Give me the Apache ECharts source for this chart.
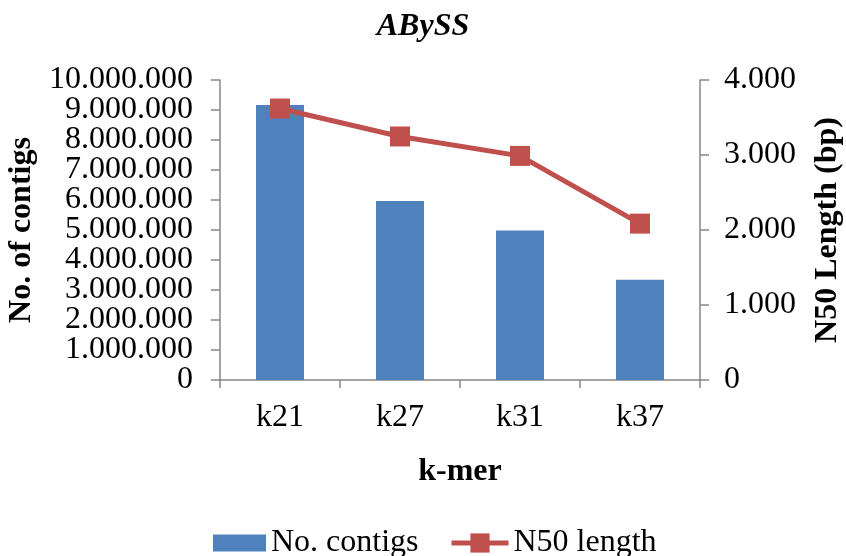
<!DOCTYPE html>
<html>
<head>
<meta charset="utf-8">
<script src="https://cdn.jsdelivr.net/npm/echarts@6/dist/echarts.min.js"></script>
<style>html,body{margin:0;padding:0;background:#fff}#c{width:846px;height:556px}</style>
</head>
<body>
<div id="c"></div>
<script>
const categories = ['k21', 'k27', 'k31', 'k37'];
const contigs = [9170000, 5970000, 4980000, 3340000];
const n50 = [3620, 3247, 2988, 2085];
const leftTicks = { min: 0, max: 10000000, interval: 1000000 };
const rightTicks = { min: 0, max: 4000, interval: 1000 };
const leftLabelsEven = [0, 2000000, 4000000, 6000000, 8000000, 10000000];
const leftLabelsOdd = [1000000, 3000000, 5000000, 7000000, 9000000];

function fmt(v) {
  return String(Math.round(v)).replace(/\B(?=(\d{3})+(?!\d))/g, '.');
}
const FONT = 'Liberation Serif';
const FS = 32;
const axisColor = '#868686';
const chart = echarts.init(document.getElementById('c'));
chart.setOption({
  animation: false,
  title: {
    text: 'ABySS', left: 'center', top: 6,
    textStyle: { fontFamily: FONT, fontSize: FS, fontWeight: 'bold', fontStyle: 'italic', color: '#000' }
  },
  legend: [{
    top: 522, left: 208, itemWidth: 53, itemHeight: 17,
    textStyle: { fontFamily: FONT, fontSize: FS, color: '#000' },
    data: [{ name: 'No. contigs', icon: 'rect' }]
  }, {
    top: 522, left: 444, itemWidth: 57, itemHeight: 24,
    textStyle: { fontFamily: FONT, fontSize: FS, color: '#000' },
    lineStyle: { width: 5 },
    data: [{ name: 'N50 length' }]
  }],
  grid: { left: 220, right: 146, top: 80, bottom: 176, outerBoundsMode: 'none' },
  xAxis: {
    type: 'category', data: categories,
    name: 'k-mer', nameLocation: 'middle', nameGap: 76,
    nameTextStyle: { fontFamily: FONT, fontSize: FS, fontWeight: 'bold', color: '#000' },
    axisLine: { lineStyle: { color: axisColor, width: 1.5 } },
    axisTick: { show: true, length: 8, lineStyle: { color: axisColor, width: 1.5 } },
    axisLabel: { fontFamily: FONT, fontSize: FS, color: '#000', margin: 22 }
  },
  yAxis: [{
    type: 'value', position: 'left', min: leftTicks.min, max: leftTicks.max, interval: leftTicks.interval,
    name: 'No. of contigs', nameLocation: 'middle', nameGap: 178,
    nameTextStyle: { fontFamily: FONT, fontSize: FS, fontWeight: 'bold', color: '#000' },
    axisLine: { show: true, lineStyle: { color: axisColor, width: 1.5 } },
    axisTick: { show: true, length: 9, lineStyle: { color: axisColor, width: 1.5 } },
    splitLine: { show: false },
    axisLabel: { fontFamily: FONT, fontSize: FS, color: '#000', margin: 27, formatter: fmt,
      customValues: leftLabelsEven, showMinLabel: true, showMaxLabel: true }
  }, {
    type: 'value', position: 'right', min: rightTicks.min, max: rightTicks.max, interval: rightTicks.interval,
    name: 'N50 Length (bp)', nameLocation: 'middle', nameGap: 112,
    nameTextStyle: { fontFamily: FONT, fontSize: FS, fontWeight: 'bold', color: '#000' },
    axisLine: { show: true, lineStyle: { color: axisColor, width: 1.5 } },
    axisTick: { show: true, length: 9, lineStyle: { color: axisColor, width: 1.5 } },
    splitLine: { show: false },
    axisLabel: { fontFamily: FONT, fontSize: FS, color: '#000', margin: 24, formatter: fmt,
      showMinLabel: true, showMaxLabel: true }
  }, {
    type: 'value', position: 'left', offset: 0, min: leftTicks.min, max: leftTicks.max, interval: leftTicks.interval,
    axisLine: { show: false }, axisTick: { show: false }, splitLine: { show: false },
    axisLabel: { fontFamily: FONT, fontSize: FS, color: '#000', margin: 27, formatter: fmt,
      customValues: leftLabelsOdd }
  }],
  series: [{
    name: 'No. contigs', type: 'bar', data: contigs, yAxisIndex: 0,
    barWidth: 48, itemStyle: { color: '#4F81BD' }
  }, {
    name: 'N50 length', type: 'line', data: n50, yAxisIndex: 1,
    symbol: 'rect', symbolSize: 20,
    lineStyle: { color: '#C0504D', width: 5 },
    itemStyle: { color: '#C0504D' }
  }]
});
</script>
</body>
</html>
